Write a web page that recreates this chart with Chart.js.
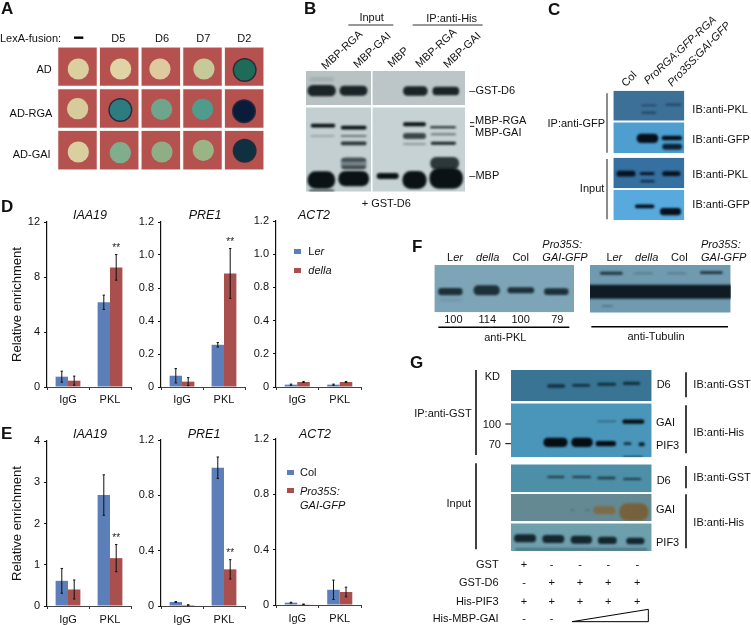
<!DOCTYPE html>
<html><head><meta charset="utf-8">
<style>
html,body{margin:0;padding:0;background:#fff;width:751px;height:625px;overflow:hidden}
#fig{position:relative;width:751px;height:625px;font-family:"Liberation Sans",Arial,sans-serif;color:#111}
canvas{position:absolute}
.t{position:absolute;white-space:nowrap;font-size:11px;line-height:1;pointer-events:none}
.sw{position:absolute;width:7px;height:5px}
</style>
<script src="https://cdn.jsdelivr.net/npm/chart.js@4/dist/chart.umd.min.js"></script>
</head><body><div id="fig"><canvas id="bg" width="751" height="625" style="left:0;top:0"></canvas></div>
<script>
/* ---------- bar chart data ---------- */
const categories = ["IgG","PKL"];
const blue = "#5c7eb9", red = "#a94f4d";

const ticksEven6 = ["0","0.2","0.4","0.8","1.0","1.2"];   // as printed, evenly spaced
const ticksE4   = ["0","0.4","0.8","1.2"];

const dIaaBlue=[0.75,6.16], dIaaRed=[0.46,8.7],  dIaaBlueErr=[0.4,0.52], dIaaRedErr=[0.33,0.93];
const dPreBlue=[0.082,0.307], dPreRed=[0.039,0.826], dPreBlueErr=[0.052,0.016], dPreRedErr=[0.029,0.181];
const dActBlue=[0.017,0.017], dActRed=[0.036,0.036], dActBlueErr=[0.004,0.004], dActRedErr=[0.004,0.004];
const eIaaBlue=[0.61,2.69], eIaaRed=[0.40,1.16], eIaaBlueErr=[0.30,0.49], eIaaRedErr=[0.23,0.33];
const ePreBlue=[0.029,1.0], ePreRed=[0.007,0.265], ePreBlueErr=[0.003,0.077], ePreRedErr=[0.002,0.07];
const eActBlue=[0.017,0.11], eActRed=[0.005,0.094], eActBlueErr=[0.003,0.07], eActRedErr=[0.002,0.035];

/* ---------- blot panel data (units: 3x-zoom pixels inside each panel) ---------- */
const D="#1a2326", K="#0b1216";
const plateCols=[[175,290],[300,415],[425,540],[550,665],[675,790]];
const plateRows=[[143,257],[268,383],[393,508]];
const colonies=[
 [[235,207,"#dccf9f"],[362,207,"#e0d3a5"],[480,207,"#dfc99f"],[612,207,"#c6ca98"],[734,210,"#1f6b5a"]],
 [[233,326,"#d8cb9b"],[361,330,"#2d7d80"],[485,328,"#6fa58c"],[608,328,"#4f9c8c"],[732,334,"#0b1c3a"]],
 [[235,456,"#d9cf9f"],[361,458,"#80ae8d"],[486,456,"#8fae85"],[610,451,"#9ab485"],[734,452,"#0f3040"]]
];
const blotsB={ox:290,oy:0,blots:[
 {r:[48,213,195,103],bg:"#b8c2c3",bands:[[55,135,238,14,"#a5b0b2"],[50,140,272,34,D],[146,235,272,30,D]]},
 {r:[247,213,278,103],bg:"#bcc6c8",bands:[[337,415,273,28,D],[425,510,273,26,D]]},
 {r:[48,322,195,253],bg:"#c3cfd1",bands:[[60,138,377,11,K],[150,232,383,11,K],[60,135,408,6,"#9aa6a9"],[150,232,408,6,"#6b7678"],[150,232,430,11,"#2a3437"],[150,232,490,36,"#79858a"],[152,230,480,9,"#3a4548"],[152,230,502,9,"#3a4548"],[50,138,540,52,K],[142,240,536,46,K],[55,135,572,5,"#2a3437"]]},
 {r:[247,322,278,253],bg:"#c6d2d4",bands:[[258,328,528,18,K],[337,410,373,12,K],[337,410,408,18,"#3b4649"],[337,410,432,5,"#7a8588"],[335,412,540,54,K],[418,500,382,6,D],[420,500,403,6,"#6b7678"],[420,500,430,9,D],[418,510,490,38,"#2d383b"],[415,522,535,62,K]]}
]};
const blotsC={ox:560,oy:0,blots:[
 {r:[160,272,213,90],bg:"#3c7097",bands:[[243,290,316,4,"#1d3a55"],[243,290,338,5,"#1d3a55"],[315,365,314,5,"#1d3a55"]]},
 {r:[160,367,213,93],bg:"#4e9fd0",bands:[[228,297,415,28,"#06101c"],[303,368,414,14,"#06101c"],[305,368,440,18,"#0e2236"]]},
 {r:[160,473,213,92],bg:"#3570a0",bands:[[168,228,521,17,"#06121f"],[238,285,521,8,"#06121f"],[240,285,544,6,"#0e2236"],[305,363,521,14,"#06121f"]]},
 {r:[160,570,213,90],bg:"#58aade",bands:[[223,285,619,11,"#06101c"],[298,365,635,22,"#06101c"]]}
]};
const blotsF={ox:400,oy:220,blots:[
 {r:[103,135,419,142],bg:"#7ea5b7",bands:[[115,190,240,10,"#7499ad"],[112,190,215,22,"#1d3038"],[218,302,211,30,"#1d3038"],[320,405,211,18,"#1d3038"],[430,508,215,20,"#1d3038"]]},
 {r:[570,135,422,143],bg:"#6f9ab0",bands:[[598,670,160,9,"#1f343f"],[700,760,160,3,"#4c6f80"],[800,860,160,4,"#4c6f80"],[898,970,158,8,"#1f343f"],[530,1030,215,42,"#0f1b22"],[605,640,258,4,"#4c6f80"]]}
]};
const blotsG={ox:400,oy:350,blots:[
 {r:[333,60,422,93],bg:"#3a7495",bands:[[440,497,108,10,"#12303f"],[515,572,106,8,"#12303f"],[590,650,103,9,"#12303f"],[667,722,100,10,"#12303f"]]},
 {r:[333,160,422,162],bg:"#4a96bb",bands:[[428,505,277,28,"#050d14"],[512,580,277,28,"#050d14"],[585,650,281,16,"#050d14"],[665,735,215,13,"#050d14"],[670,695,281,8,"#183040"],[715,735,283,12,"#0c1f2c"],[590,650,214,3,"#2a5a70"],[668,730,320,3,"#12303f"]]},
 {r:[333,343,422,84],bg:"#4c8fa7",bands:[[440,495,381,6,"#1c3a48"],[515,575,381,6,"#1c3a48"],[590,648,384,8,"#1c3a48"],[668,725,387,6,"#1c3a48"]]},
 {r:[333,432,422,81],bg:"#658993",bands:[[578,648,481,24,"#7d6c48"],[655,748,486,52,"#75623c"],[512,522,481,5,"#4c6a74"],[555,570,481,4,"#4c6a74"]]},
 {r:[333,520,422,83],bg:"#6e9fad",bands:[[333,755,598,8,"#4b7280"],[340,410,565,24,"#14272e"],[425,495,567,24,"#14272e"],[510,578,569,24,"#14272e"],[592,652,571,22,"#14272e"],[677,735,573,20,"#14272e"]]}
]};
/* rule lines: panel offset, [x0,y0,x1,y1,width,colour] in zoom pixels */
const rules=[
 {ox:0,oy:0,l:[[222,113,250,113,2.4,"#000"]]},
 {ox:290,oy:0,l:[[175,75,310,75,1,"#333"],[368,75,578,75,1,"#333"],[540,368,553,368,1,"#222"],[540,379,553,379,1,"#222"]]},
 {ox:560,oy:0,l:[[141,280,141,458,1.5,"#666"],[141,477,141,658,1.5,"#666"]]},
 {ox:400,oy:220,l:[[115,322,508,322,1.5,"#000"],[574,320,984,320,1.5,"#000"]]},
 {ox:400,oy:350,l:[[228,60,228,315,1.5,"#000"],[228,340,228,598,1.5,"#000"],[858,67,858,142,1.5,"#000"],[858,166,858,310,1.5,"#000"],[858,348,858,415,1.5,"#000"],[858,433,858,595,1.5,"#000"],[316,222,333,222,1,"#000"],[316,281,333,281,1,"#000"]]}
];
const wedge=[[516,815],[745,778],[745,815]];

/* ---------- text ---------- */
// [text, X, Y, align(l/c/r), options] in zoom pixels of the panel
const ital=s=>"<i>"+s+"</i>";
const textGroups=[
 {ox:0,oy:0,items:[["LexA-fusion:",0,113,"l"],["D5",355,115,"c"],["D6",486,115,"c"],["D7",610,115,"c"],["D2",733,115,"c"],["AD",155,207,"r"],["AD-RGA",157,340,"r"],["AD-GAI",152,462,"r"]]},
 {ox:290,oy:0,items:[["Input",245,52,"c"],["IP:anti-His",485,55,"c"],["MBP-RGA",157,150,"c",{rot:-43}],["MBP-GAI",245,150,"c",{rot:-43}],["MBP",323,172,"c",{rot:-43}],["MBP-RGA",437,143,"c",{rot:-43}],["MBP-GAI",515,150,"c",{rot:-43}],["–GST-D6",538,270,"l"],["MBP-RGA",555,360,"l"],["MBP-GAI",555,397,"l"],["–MBP",538,526,"l"],["+ GST-D6",215,610,"l"]]},
 {ox:560,oy:0,items:[["Col",208,238,"c",{rot:-45}],[ital("ProRGA:GFP-RGA"),360,150,"c",{rot:-43}],[ital("Pro35S:GAI-GFP"),418,163,"c",{rot:-46}],["IP:anti-GFP",135,370,"r"],["Input",133,563,"r"],["IB:anti-PKL",397,327,"l"],["IB:anti-GFP",397,417,"l"],["IB:anti-PKL",397,522,"l"],["IB:anti-GFP",397,613,"l"]]},
 {ox:400,oy:220,items:[["L"+ital("er"),165,110,"c"],[ital("della"),263,110,"c"],["Col",362,110,"c"],[ital("Pro35S:"),427,72,"l"],[ital("GAI-GFP"),427,112,"l"],["L"+ital("er"),643,110,"c"],[ital("della"),740,110,"c"],["Col",838,110,"c"],[ital("Pro35S:"),903,72,"l"],[ital("GAI-GFP"),903,112,"l"],["100",160,298,"c"],["114",262,298,"c"],["100",362,298,"c"],["79",472,298,"c"],["anti-PKL",316,350,"c"],["anti-Tubulin",768,348,"c"]]},
 {ox:400,oy:350,items:[["KD",277,77,"c"],["IP:anti-GST",215,190,"r"],["100",303,222,"r"],["70",303,281,"r"],["Input",213,460,"r"],["D6",770,103,"l"],["GAI",768,216,"l"],["PIF3",768,285,"l"],["D6",770,389,"l"],["GAI",768,478,"l"],["PIF3",768,577,"l"],["IB:anti-GST",880,103,"l"],["IB:anti-His",880,245,"l"],["IB:anti-GST",880,380,"l"],["IB:anti-His",880,517,"l"],["GST",296,641,"r"],["GST-D6",296,695,"r"],["His-PIF3",296,752,"r"],["His-MBP-GAI",296,805,"r"]]},
 {ox:0,oy:190,items:[["L"+ital("er"),925,183,"l"],[ital("della"),925,241,"l"]]},
 {ox:0,oy:400,items:[["Col",900,216,"l"],[ital("Pro35S:"),900,274,"l"],[ital("GAI-GFP"),900,314,"l"]]}
];
const panelLetters=[["A",1,8],["B",304,8],["C",548,9],["D",1,206],["E",1,433],["F",412,246],["G",410,362]];
const signCols=[372,455,540,625,712];
const signRows=[[641,["+","-","-","-","-"]],[695,["-","+","+","+","+"]],[752,["+","+","+","+","+"]],[805,["-","-"]]];
const legendSwatches=[[0,190,882,183,blue],[0,190,882,241,red],[0,400,862,216,blue],[0,400,862,272,red]];

/* ---------- DOM text ---------- */
const fig=document.getElementById("fig");
function put(html,x,y,al,o={}){
  const e=document.createElement("div");e.className="t";e.innerHTML=html;
  if(o.size)e.style.fontSize=o.size+"px";
  if(o.bold)e.style.fontWeight="bold";
  const tx=al==="l"?"0":al==="c"?"-50%":"-100%";
  e.style.left=x+"px";e.style.top=y+"px";
  e.style.transform=`translate(${tx},-50%)`+(o.rot?` rotate(${o.rot}deg)`:"");
  fig.appendChild(e);
}
textGroups.forEach(g=>g.items.forEach(([s,X,Y,al,o])=>put(s,g.ox+X/3,g.oy+Y/3,al,o)));
panelLetters.forEach(([s,x,y])=>put(s,x,y,"l",{size:17,bold:true}));
signRows.forEach(([Y,row])=>row.forEach((s,i)=>put(s,400+signCols[i]/3,350+Y/3,"c")));
legendSwatches.forEach(([ox,oy,X,Y,c])=>{const d=document.createElement("div");d.className="sw";d.style.left=(ox+X/3)+"px";d.style.top=(oy+Y/3-2.5)+"px";d.style.background=c;fig.appendChild(d);});

/* ---------- blots on a full-figure chart layer ---------- */
function drawBlots(ctx,p){
  p.blots.forEach(b=>{
    const [X,Y,W,H]=b.r;
    ctx.save();ctx.beginPath();ctx.rect(p.ox+X/3,p.oy+Y/3,W/3,H/3);ctx.clip();
    ctx.fillStyle=b.bg;ctx.fillRect(p.ox+X/3,p.oy+Y/3,W/3,H/3);
    ctx.filter="blur(1px)";
    b.bands.forEach(([x0,x1,yc,h,c])=>{
      ctx.fillStyle=c;
      ctx.beginPath();
      const w=(x1-x0)/3,hh=Math.max(h/3,1.2);
      ctx.roundRect(p.ox+x0/3+w*0.03,p.oy+yc/3-hh/2,w*0.94,hh,hh/2.2);ctx.fill();
    });
    ctx.restore();
  });
}
const blotLayer={id:"blotLayer",afterDraw(chart){
  const ctx=chart.ctx;
  ctx.save();
  // panel A plates
  plateRows.forEach(([y0,y1],r)=>plateCols.forEach(([x0,x1],c)=>{
    ctx.fillStyle="#ead9d4";ctx.fillRect(x0/3-0.5,y0/3-0.5,(x1-x0)/3+1,(y1-y0)/3+1);
    ctx.fillStyle="#b5524f";ctx.fillRect(x0/3,y0/3,(x1-x0)/3,(y1-y0)/3);
    const [cx,cy,col]=colonies[r][c];
    ctx.save();ctx.filter="blur(0.6px)";
    if(c===4||(r===1&&c===1)){ctx.fillStyle="#2a2a3a";ctx.beginPath();ctx.arc(cx/3,cy/3,12,0,7);ctx.fill();}
    ctx.fillStyle=col;ctx.beginPath();ctx.arc(cx/3,cy/3,10.6,0,7);ctx.fill();ctx.restore();
  }));
  [blotsB,blotsC,blotsF,blotsG].forEach(p=>drawBlots(ctx,p));
  rules.forEach(g=>g.l.forEach(([a,b,c,d,w,col])=>{
    ctx.strokeStyle=col;ctx.lineWidth=w;ctx.beginPath();
    ctx.moveTo(g.ox+a/3,g.oy+b/3);ctx.lineTo(g.ox+c/3,g.oy+d/3);ctx.stroke();
  }));
  ctx.strokeStyle="#000";ctx.lineWidth=1;ctx.beginPath();
  wedge.forEach(([X,Y],i)=>{const x=400+X/3,y=350+Y/3;i?ctx.lineTo(x,y):ctx.moveTo(x,y);});
  ctx.closePath();ctx.stroke();
  ctx.restore();
}};
new Chart(document.getElementById("bg"),{type:"bar",data:{labels:[],datasets:[]},
 options:{responsive:false,animation:false,plugins:{legend:{display:false},tooltip:{enabled:false}},
 scales:{x:{display:false},y:{display:false}}},plugins:[blotLayer]});

/* ---------- bar charts ---------- */
const errorBars={id:"errorBars",
 afterLayout(chart){ // centre the title over the whole canvas, ignoring the right padding
  if(chart.titleBlock){chart.titleBlock.left=0;chart.titleBlock.right=chart.width;}
 },
 afterDatasetsDraw(chart){
  const ctx=chart.ctx,y=chart.scales.y;
  ctx.save();
  chart.data.datasets.forEach((ds,i)=>{
    chart.getDatasetMeta(i).data.forEach((bar,j)=>{
      const v=ds.data[j],e=ds.errs[j],t=y.getPixelForValue(v+e),b=y.getPixelForValue(v-e);
      ctx.strokeStyle="#111";ctx.lineWidth=1;ctx.beginPath();
      ctx.moveTo(bar.x,t);ctx.lineTo(bar.x,b);
      ctx.moveTo(bar.x-1.2,t);ctx.lineTo(bar.x+1.2,t);
      ctx.moveTo(bar.x-1.2,b);ctx.lineTo(bar.x+1.2,b);ctx.stroke();
      if(ds.stars&&ds.stars[j]){ctx.fillStyle="#222";ctx.font="10px 'Liberation Sans'";ctx.textAlign="center";ctx.textBaseline="middle";ctx.fillText("**",bar.x,t-6);}
    });
  });
  ctx.restore();
}};
const FF="'Liberation Sans',Arial,sans-serif";
function makeChart(c){
  const leftPad=40,botPad=22,titleH=10,titleTop=5;
  const cv=document.createElement("canvas");
  const left=c.axisX-leftPad,top=c.titleY-titleH/2-titleTop;
  const W=2*(c.titleX-left),H=c.base-top+botPad;
  cv.width=W;cv.height=H;cv.style.left=left+"px";cv.style.top=top+"px";
  fig.appendChild(cv);
  new Chart(cv,{type:"bar",
    data:{labels:categories,datasets:[
      {label:c.names[0],data:c.a,errs:c.ae,backgroundColor:blue,borderWidth:0,stars:c.as},
      {label:c.names[1],data:c.b,errs:c.be,backgroundColor:red,borderWidth:0,stars:c.bs}]},
    options:{responsive:false,animation:false,
      datasets:{bar:{categoryPercentage:0.59,barPercentage:1}},
      layout:{padding:{right:W-leftPad-c.plotW,left:0,top:0,bottom:0}},
      plugins:{legend:{display:false},tooltip:{enabled:false},
        title:{display:true,text:c.title,color:"#111",padding:{top:titleTop,bottom:c.top-top-titleH-titleTop},
          font:{family:FF,size:12.5,style:"italic",weight:"normal",lineHeight:0.8}}},
      scales:{
        x:{afterFit:s=>{s.height=botPad;},
           grid:{offset:true,drawOnChartArea:false,tickLength:3,color:"#333"},
           border:{color:"#444",width:1},
           ticks:{color:"#111",padding:c.xpad,font:{family:FF,size:11},maxRotation:0}},
        y:{min:0,max:c.max,afterFit:s=>{s.width=leftPad;},
           afterBuildTicks:s=>{s.ticks=c.labels.map((_,i)=>({value:c.max*i/(c.labels.length-1)}));},
           grid:{drawOnChartArea:false,tickLength:3,color:"#111"},
           border:{color:"#111",width:1.2},
           title:c.ytitle?{display:true,text:"Relative enrichment",color:"#111",padding:{top:3,bottom:0},font:{family:FF,size:13}}:{display:false},
           ticks:{color:"#111",padding:4,font:{family:FF,size:11},autoSkip:false,callback:(v,i)=>c.labels[i]}}
      }},
    plugins:[errorBars]});
}
const dNames=["Ler","della"],eNames=["Col","Pro35S:GAI-GFP"];
const iaaD=["0","4","8","12"],iaaE=["0","1","2","3","4"];
makeChart({title:"IAA19",axisX:47,titleX:90,titleY:216,top:222,base:387,plotW:84,max:12,labels:iaaD,names:dNames,a:dIaaBlue,b:dIaaRed,ae:dIaaBlueErr,be:dIaaRedErr,bs:[0,1],ytitle:true,xpad:3});
makeChart({title:"PRE1",axisX:161,titleX:205,titleY:216,top:222,base:387,plotW:84,max:1.2,labels:ticksEven6,names:dNames,a:dPreBlue,b:dPreRed,ae:dPreBlueErr,be:dPreRedErr,bs:[0,1],xpad:3});
makeChart({title:"ACT2",axisX:276,titleX:314,titleY:216,top:221,base:387,plotW:85,max:1.2,labels:ticksEven6,names:dNames,a:dActBlue,b:dActRed,ae:dActBlueErr,be:dActRedErr,xpad:3});
makeChart({title:"IAA19",axisX:47,titleX:90,titleY:435,top:441,base:606,plotW:84,max:4,labels:iaaE,names:eNames,a:eIaaBlue,b:eIaaRed,ae:eIaaBlueErr,be:eIaaRedErr,bs:[0,1],ytitle:true,xpad:4});
makeChart({title:"PRE1",axisX:161,titleX:204,titleY:435,top:440,base:606,plotW:84,max:1.2,labels:ticksE4,names:eNames,a:ePreBlue,b:ePreRed,ae:ePreBlueErr,be:ePreRedErr,bs:[0,1],xpad:4});
makeChart({title:"ACT2",axisX:276,titleX:315,titleY:435,top:439,base:605,plotW:85,max:1.2,labels:ticksE4,names:eNames,a:eActBlue,b:eActRed,ae:eActBlueErr,be:eActRedErr,xpad:4});
</script></body></html>
